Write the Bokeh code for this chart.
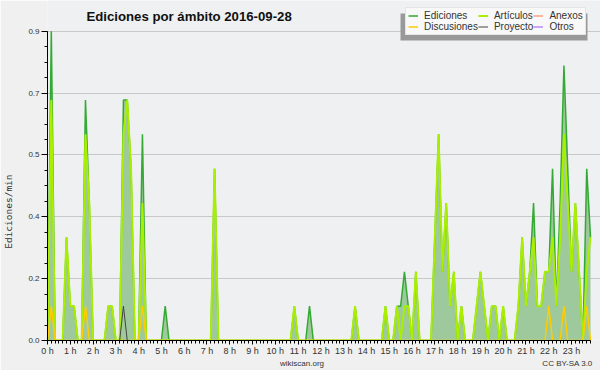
from bokeh.plotting import figure
from bokeh.models import (BoxAnnotation, ColumnDataSource, FixedTicker, Label, Legend,
                          LegendItem, LinearAxis, Range1d)
from bokeh.embed import file_html
from bokeh.resources import INLINE

# ---- data: 144 ten-minute bins, values in edits per minute (one row = one hour) ----
ediciones = [
    0, 0.9, 0, 0, 0, 0.3,
    0.1, 0.1, 0, 0, 0.7, 0.4,
    0, 0, 0, 0, 0.1, 0.1,
    0, 0, 0.7, 0.7, 0.5, 0,
    0, 0.6, 0, 0, 0, 0,
    0, 0.1, 0, 0, 0, 0,
    0, 0, 0, 0, 0, 0,
    0, 0, 0.5, 0, 0, 0,
    0, 0, 0, 0, 0, 0,
    0, 0, 0, 0, 0, 0,
    0, 0, 0, 0, 0, 0.1,
    0, 0, 0, 0.1, 0, 0,
    0, 0, 0, 0, 0, 0,
    0, 0, 0, 0.1, 0, 0,
    0, 0, 0, 0, 0, 0.1,
    0, 0, 0.1, 0.1, 0.2, 0.1,
    0, 0.2, 0, 0, 0, 0,
    0.3, 0.6, 0.2, 0.4, 0.1, 0.2,
    0, 0.1, 0, 0, 0, 0.1,
    0.2, 0.1, 0, 0.1, 0.1, 0,
    0.1, 0, 0, 0, 0.1, 0.3,
    0.1, 0.2, 0.4, 0.1, 0.1, 0.2,
    0.2, 0.5, 0.1, 0.4, 0.8, 0.5,
    0.2, 0.4, 0.2, 0, 0.5, 0.3,
]
articulos = [
    0, 0.7, 0, 0, 0, 0.3,
    0.1, 0.1, 0, 0, 0.6, 0.4,
    0, 0, 0, 0, 0.1, 0.1,
    0, 0, 0.6, 0.7, 0.5, 0,
    0, 0.4, 0, 0, 0, 0,
    0, 0, 0, 0, 0, 0,
    0, 0, 0, 0, 0, 0,
    0, 0, 0.5, 0, 0, 0,
    0, 0, 0, 0, 0, 0,
    0, 0, 0, 0, 0, 0,
    0, 0, 0, 0, 0, 0.1,
    0, 0, 0, 0, 0, 0,
    0, 0, 0, 0, 0, 0,
    0, 0, 0, 0.1, 0, 0,
    0, 0, 0, 0, 0, 0.1,
    0, 0, 0.1, 0, 0.1, 0.1,
    0, 0.2, 0, 0, 0, 0,
    0.3, 0.6, 0.2, 0.4, 0.1, 0.2,
    0, 0.1, 0, 0, 0, 0.1,
    0.2, 0.1, 0, 0.1, 0.1, 0,
    0.1, 0, 0, 0, 0.1, 0.3,
    0.1, 0.2, 0.3, 0.1, 0.1, 0.2,
    0.2, 0.3, 0.1, 0.3, 0.6, 0.4,
    0.2, 0.4, 0.2, 0, 0.2, 0.3,
]
discusiones = [
    0, 0.1, 0, 0, 0, 0,
    0, 0, 0, 0, 0.1, 0,
    0, 0, 0, 0, 0, 0,
    0, 0, 0, 0, 0, 0,
    0, 0.1, 0, 0, 0, 0,
    0, 0, 0, 0, 0, 0,
    0, 0, 0, 0, 0, 0,
    0, 0, 0, 0, 0, 0,
    0, 0, 0, 0, 0, 0,
    0, 0, 0, 0, 0, 0,
    0, 0, 0, 0, 0, 0,
    0, 0, 0, 0, 0, 0,
    0, 0, 0, 0, 0, 0,
    0, 0, 0, 0, 0, 0,
    0, 0, 0, 0, 0, 0,
    0, 0, 0, 0, 0, 0,
    0, 0, 0, 0, 0, 0,
    0, 0, 0, 0, 0, 0,
    0, 0, 0, 0, 0, 0,
    0, 0, 0, 0, 0, 0,
    0, 0, 0, 0, 0, 0,
    0, 0, 0, 0, 0, 0,
    0.1, 0, 0, 0, 0.1, 0,
    0, 0, 0, 0, 0.1, 0,
]
proyecto = [0] * 20 + [0.1] + [0] * 123
anexos = [0] * 144
otros = [0] * 144

hour_labels = ["%d h" % h for h in range(24)]
y_tick_values = [0.0, 0.18, 0.36, 0.54, 0.72, 0.9]
y_tick_labels = ["0.0", "0.2", "0.4", "0.5", "0.7", "0.9"]

title_text = "Ediciones por ámbito  2016-09-28"
y_title = "Ediciones/min"
footer_text = "wikiscan.org"
license_text = "CC BY-SA 3.0"

# ---- layout (pixels of the 600x370 canvas) ----
W, H = 600, 370
FRAME_LEFT, AXIS_RIGHT, AXIS_TOP, FRAME_BOTTOM = 46, 590, 31, 343

n = len(ediciones)
x_hours = [i / 6 for i in range(n)]
x_last = x_hours[-1]
y_top = y_tick_values[-1]
# frame reaches the canvas top and right edges, so that the title and legend sit inside it
x_end = x_last * (W - FRAME_LEFT) / (AXIS_RIGHT - FRAME_LEFT)
y_end = y_top * FRAME_BOTTOM / (FRAME_BOTTOM - AXIS_TOP)


def x_at(px):
    return (px - FRAME_LEFT) / (W - FRAME_LEFT) * x_end


def y_at(py):
    return (FRAME_BOTTOM - py) / FRAME_BOTTOM * y_end


src = ColumnDataSource(dict(x=x_hours, ed=ediciones, art=articulos, disc=discusiones,
                            proy=proyecto, anex=anexos, otros=otros))

p = figure(width=W, height=H, output_backend="svg", toolbar_location=None,
           x_range=Range1d(0, x_end), y_range=Range1d(0, y_end),
           min_border_left=FRAME_LEFT, min_border_right=0, min_border_top=0,
           min_border_bottom=H - FRAME_BOTTOM,
           background_fill_color="#eef0f2", border_fill_color="#f0f0f0")
p.outline_line_color = None

p.xgrid.visible = False
p.ygrid.grid_line_color = "#c8c8c8"
p.ygrid.ticker = FixedTicker(ticks=y_tick_values)
p.ygrid.bounds = (0, x_last)

p.yaxis.ticker = FixedTicker(ticks=y_tick_values,
                             minor_ticks=[k * 0.045 for k in range(21)])
p.yaxis.major_label_overrides = dict(zip(y_tick_values, y_tick_labels))
p.yaxis.bounds = (0, y_top)
p.xaxis.ticker = FixedTicker(ticks=list(range(24)), minor_ticks=x_hours)
p.xaxis.major_label_overrides = dict(zip(range(24), hour_labels))
p.xaxis.bounds = (0, x_last)

for ax in (p.xaxis[0], p.yaxis[0]):
    ax.axis_line_color = "#000000"
    ax.axis_line_width = 1
    ax.major_tick_line_color = "#000000"
    ax.minor_tick_line_color = "#000000"
    ax.major_tick_in = 0
    ax.minor_tick_in = 0
    ax.major_label_text_font = "Liberation Sans"
    ax.major_label_text_color = "#333333"
p.xaxis.major_tick_out = 4
p.xaxis.minor_tick_out = 3
p.xaxis.major_label_text_font_size = "9px"
p.xaxis.major_label_standoff = 1
p.yaxis.major_tick_out = 6
p.yaxis.minor_tick_out = 3
p.yaxis.major_label_text_font_size = "8px"
p.yaxis.major_label_standoff = 2


def text_axis(ticks, labels, font, size, standoff, orientation="horizontal"):
    return LinearAxis(ticker=FixedTicker(ticks=ticks),
                      major_label_overrides=dict(zip(ticks, labels)),
                      axis_line_color=None, major_tick_line_color=None,
                      minor_tick_line_color=None, major_tick_in=0, major_tick_out=0,
                      minor_tick_in=0, minor_tick_out=0,
                      major_label_standoff=standoff, major_label_orientation=orientation,
                      major_label_text_font=font, major_label_text_font_size=size,
                      major_label_text_color="#333333")


# y title (as a label-only axis, left of the value axis) and footer texts (below)
p.add_layout(text_axis([y_at(213)], [y_title], "DejaVu Sans Mono", "9.5px", 11,
                       "vertical"), "left")
p.add_layout(text_axis([x_at(301), x_at(567)], [footer_text, license_text],
                       "Liberation Sans", "8px", 0), "below")

# legend drop shadow, given in screen units measured from the frame's lower-left corner
p.add_layout(BoxAnnotation(left=399 - FRAME_LEFT, right=586 - FRAME_LEFT,
                           top=FRAME_BOTTOM - 16, bottom=FRAME_BOTTOM - 43,
                           left_units="screen", right_units="screen",
                           top_units="screen", bottom_units="screen",
                           fill_color="#999999", fill_alpha=1, line_color=None))

p.varea(x="x", y1=0, y2="ed", source=src, fill_color="#9ec99c")
r_anex = p.line("x", "anex", source=src, line_color="#ff7744", line_width=1)
r_otros = p.line("x", "otros", source=src, line_color="#9955ee", line_width=1)
r_ed = p.line("x", "ed", source=src, line_color="#33aa33", line_width=1.5)
r_art = p.line("x", "art", source=src, line_color="#aaee00", line_width=2)
r_disc = p.line("x", "disc", source=src, line_color="#ffcc00", line_width=1.5)
r_proy = p.line("x", "proy", source=src, line_color="#444444", line_width=1)

legend = Legend(items=[LegendItem(label="Ediciones", renderers=[r_ed]),
                       LegendItem(label="Discusiones", renderers=[r_disc]),
                       LegendItem(label="Artículos", renderers=[r_art]),
                       LegendItem(label="Proyecto", renderers=[r_proy]),
                       LegendItem(label="Anexos", renderers=[r_anex]),
                       LegendItem(label="Otros", renderers=[r_otros])],
                location=(404 - FRAME_LEFT, FRAME_BOTTOM - 38),
                orientation="vertical", nrows=2,
                glyph_width=10, glyph_height=11, label_height=11, label_standoff=6,
                spacing=0, padding=2, margin=0,
                background_fill_color="#f8f8f8", background_fill_alpha=1,
                border_line_color="#cfcfcf",
                label_text_font="Liberation Sans", label_text_font_size="10px",
                label_text_line_height=1.0, label_text_color="#333333")
p.add_layout(legend, "center")

p.add_layout(Label(x=85 - FRAME_LEFT, y=FRAME_BOTTOM - 19, x_units="screen",
                   y_units="screen", text=title_text,
                   text_font="Liberation Sans", text_font_style="bold",
                   text_font_size="13.2px", text_baseline="alphabetic",
                   text_color="#111111"))

open("out.html", "w").write(file_html(p, INLINE))
